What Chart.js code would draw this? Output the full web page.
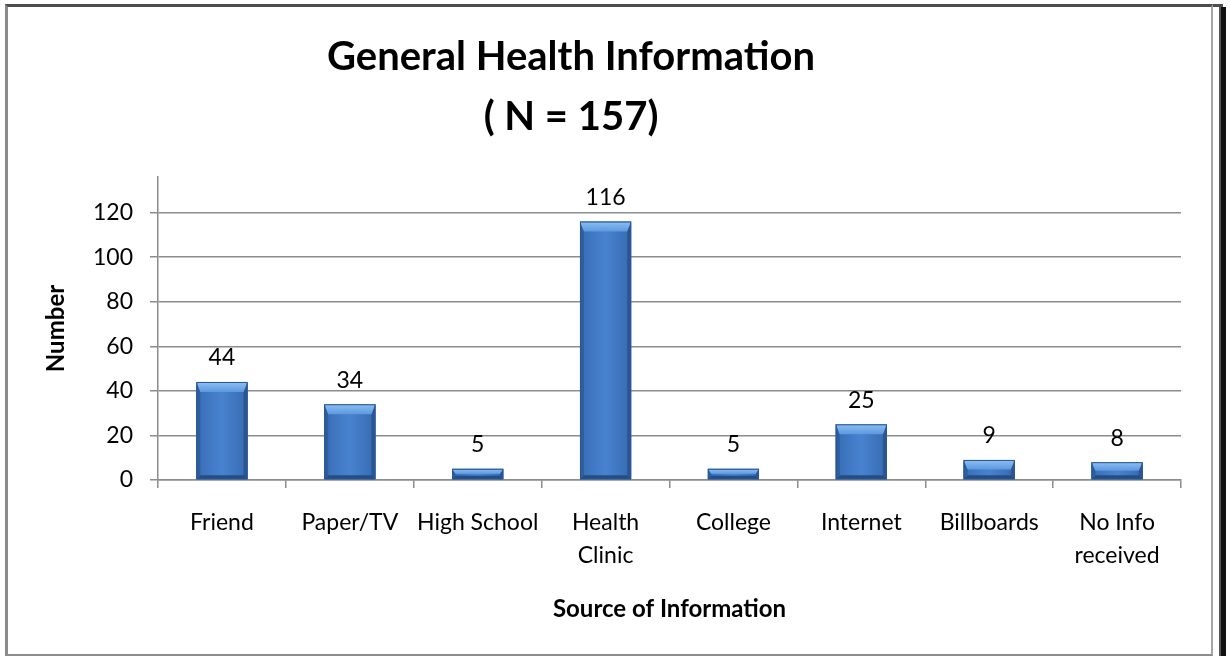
<!DOCTYPE html>
<html>
<head>
<meta charset="utf-8">
<title>General Health Information</title>
<script src="https://cdn.jsdelivr.net/npm/chart.js@4/dist/chart.umd.min.js"></script>
<style>
  body { margin: 0; background: #fff; }
  #wrap { position: relative; width: 1230px; height: 656px; overflow: hidden; }
  #frame {
    position: absolute; left: 5px; top: 4px; width: 1208px; height: 652px;
    box-sizing: border-box; pointer-events: none;
    border-left: 3px solid #8a8a8a; border-top: 3px solid #4d4d4d;
    border-right: 2px solid #a6a6a6; border-bottom: 2px solid #8c8c8c;
  }
  #topext { position: absolute; left: 1213px; top: 4px; width: 10px; height: 3px; background: #4d4d4d; }
  #edge { position: absolute; left: 1219px; top: 7px; width: 5px; height: 649px; background: #111; border-left: 2px solid #555; }
</style>
</head>
<body>
<div id="wrap">
  <canvas id="chart" width="1230" height="656"></canvas>
  <div id="frame"></div>
  <div id="topext"></div>
  <div id="edge"></div>
</div>
<script>
// chart data
const categories = ['Friend', 'Paper/TV', 'High School', 'Health Clinic', 'College', 'Internet', 'Billboards', 'No Info received'];
const counts = [44, 34, 5, 116, 5, 25, 9, 8];
const yTickValues = [0, 20, 40, 60, 80, 100, 120];
const yAxisMax = 136;
const titleLines = ['General Health Information', '( N = 157)'];

// labels that wrap onto two lines in the original
const wrapped = {
    'Health Clinic': ['Health', 'Clinic'],
    'No Info received': ['No Info', 'received']
};

const FONT = 'Lato';
const gridColor = '#8c8c8c';

// draws the bevelled look of the bars on top of the plain bars
const bevelBars = {
    id: 'bevelBars',
    afterDatasetsDraw(chart) {
        const ctx = chart.ctx;
        const meta = chart.getDatasetMeta(0);
        meta.data.forEach((bar) => {
            const p = bar.getProps(['x', 'y', 'base', 'width'], true);
            const left = p.x - p.width / 2;
            const right = p.x + p.width / 2;
            const top = p.y;
            const bottom = p.base;
            const h = bottom - top;
            const b = Math.min(10, h / 2);
            const s = Math.min(4, h / 3);

            ctx.save();
            // face
            const face = ctx.createLinearGradient(left, 0, right, 0);
            face.addColorStop(0, '#386db6');
            face.addColorStop(0.5, '#4883cf');
            face.addColorStop(1, '#366aaf');
            ctx.fillStyle = face;
            ctx.fillRect(left, top, p.width, h);

            // left side
            ctx.fillStyle = '#2e5e9e';
            ctx.beginPath();
            ctx.moveTo(left, top);
            ctx.lineTo(left + s, top + b);
            ctx.lineTo(left + s, bottom - s);
            ctx.lineTo(left, bottom);
            ctx.closePath();
            ctx.fill();

            // right side
            ctx.fillStyle = '#2a5794';
            ctx.beginPath();
            ctx.moveTo(right, top);
            ctx.lineTo(right - s, top + b);
            ctx.lineTo(right - s, bottom - s);
            ctx.lineTo(right, bottom);
            ctx.closePath();
            ctx.fill();

            // bottom
            ctx.fillStyle = '#244d86';
            ctx.beginPath();
            ctx.moveTo(left, bottom);
            ctx.lineTo(left + s, bottom - s);
            ctx.lineTo(right - s, bottom - s);
            ctx.lineTo(right, bottom);
            ctx.closePath();
            ctx.fill();

            // top bevel
            const topGrad = ctx.createLinearGradient(0, top, 0, top + b);
            topGrad.addColorStop(0, '#8cc0f3');
            topGrad.addColorStop(1, '#5d98de');
            ctx.fillStyle = topGrad;
            ctx.beginPath();
            ctx.moveTo(left, top);
            ctx.lineTo(right, top);
            ctx.lineTo(right - s, top + b);
            ctx.lineTo(left + s, top + b);
            ctx.closePath();
            ctx.fill();

            ctx.strokeStyle = '#2a558f';
            ctx.lineWidth = 1;
            ctx.strokeRect(left + 0.5, top + 0.5, p.width - 1, h - 1);
            ctx.restore();
        });
    }
};

// value labels above each bar
const valueLabels = {
    id: 'valueLabels',
    afterDatasetsDraw(chart) {
        const ctx = chart.ctx;
        const meta = chart.getDatasetMeta(0);
        ctx.save();
        ctx.font = '23px ' + FONT;
        ctx.fillStyle = '#000';
        ctx.textAlign = 'center';
        ctx.textBaseline = 'middle';
        meta.data.forEach((bar, i) => {
            ctx.fillText(String(chart.data.datasets[0].data[i]), bar.x, bar.y - 24);
        });
        ctx.restore();
    }
};

new Chart(document.getElementById('chart'), {
    type: 'bar',
    data: {
        labels: categories,
        datasets: [{
            data: counts,
            backgroundColor: '#3d76c2',
            borderWidth: 0,
            categoryPercentage: 1,
            barPercentage: 0.4
        }]
    },
    options: {
        responsive: false,
        animation: false,
        devicePixelRatio: 1,
        layout: { padding: { left: -39, right: 49, top: 0, bottom: 0 } },
        plugins: {
            legend: { display: false },
            tooltip: { enabled: false },
            title: {
                display: true,
                text: titleLines,
                color: '#000',
                font: { family: FONT, size: 40, weight: 'bold', lineHeight: '60px' },
                padding: { top: 27, bottom: 30 }
            }
        },
        scales: {
            x: {
                afterFit(scale) { scale.height = 176; },
                grid: { drawOnChartArea: false, drawTicks: true, tickLength: 8, color: gridColor, lineWidth: 1.5 },
                border: { color: gridColor, width: 1.5 },
                ticks: {
                    color: '#000',
                    padding: 18,
                    maxRotation: 0,
                    autoSkip: false,
                    font: { family: FONT, size: 23, lineHeight: '33px' },
                    callback(value) {
                        const name = categories[value];
                        return wrapped[name] || name;
                    }
                },
                title: {
                    display: true,
                    text: 'Source of Information',
                    color: '#000',
                    font: { family: FONT, size: 24, weight: 'bold', lineHeight: 1.2 },
                    padding: { top: 0, bottom: 32.6 }
                }
            },
            y: {
                min: 0,
                max: yAxisMax,
                afterFit(scale) { scale.width = 197; },
                afterBuildTicks(scale) {
                    scale.ticks = yTickValues.map(v => ({ value: v }));
                },
                grid: { color: gridColor, lineWidth: 1.5, tickLength: 8 },
                border: { color: gridColor, width: 1.5 },
                ticks: {
                    color: '#000',
                    padding: 17,
                    font: { family: FONT, size: 23 }
                },
                title: {
                    display: true,
                    text: 'Number',
                    color: '#000',
                    font: { family: FONT, size: 24, weight: 'bold', lineHeight: 1.2 },
                    padding: { top: 81.1, bottom: 0 }
                }
            }
        }
    },
    plugins: [bevelBars, valueLabels]
});
</script>
</body>
</html>
